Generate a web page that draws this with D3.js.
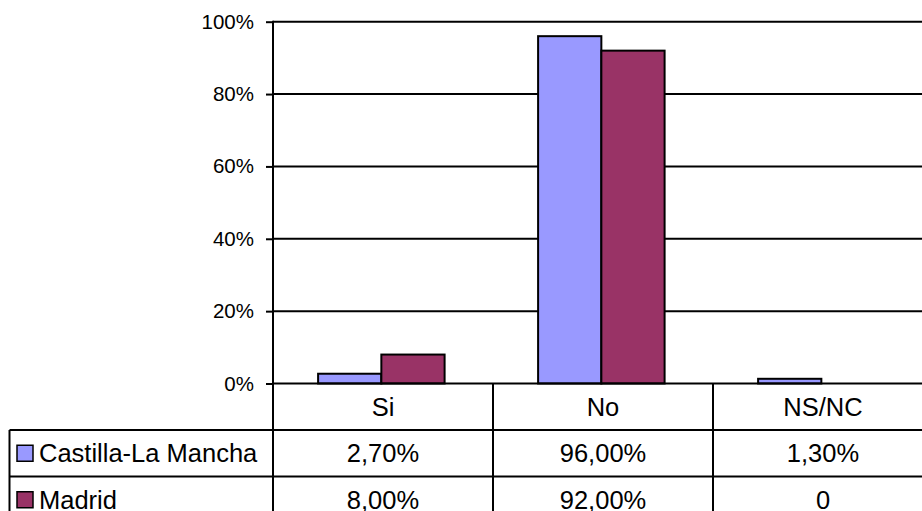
<!DOCTYPE html>
<html>
<head>
<meta charset="utf-8">
<script src="https://cdn.jsdelivr.net/npm/d3@7"></script>
<style>
  html, body { margin: 0; padding: 0; background: #fff; overflow: hidden; }
  svg { display: block; font-family: "Liberation Sans", Arial, sans-serif; }
</style>
</head>
<body>
<svg id="chart" width="922" height="511"></svg>
<script>
// ---- data ----
const categories = ["Si", "No", "NS/NC"];
const seriesNames = ["Castilla-La Mancha", "Madrid"];
const castillaValues = [2.7, 96.0, 1.3];
const madridValues = [8.0, 92.0, 0];
const yTickValues = [0, 20, 40, 60, 80, 100];
const seriesColors = ["#9999FF", "#993366"];

const seriesValues = [castillaValues, madridValues];

// ---- layout ----
const svg = d3.select("#chart");
const plotLeft = 273, plotRight = 933, plotTop = 21.7, plotBottom = 383.5;
const rowH = 46.5;
const legendLeft = 9.5;
const tableFont = 25.5;

const x0 = d3.scaleBand().domain(categories).range([plotLeft, plotRight]).padding(0);
const bw = x0.bandwidth();
const x1 = d3.scaleBand().domain(seriesNames).range([bw * 0.205, bw * 0.78]).padding(0);
const y = d3.scaleLinear().domain([0, 100]).range([plotBottom, plotTop]);

// gridlines
svg.append("g").selectAll("line").data(yTickValues.filter(d => d > 0)).join("line")
  .attr("x1", plotLeft).attr("x2", plotRight)
  .attr("y1", d => y(d)).attr("y2", d => y(d))
  .attr("stroke", "#000").attr("stroke-width", 2);

// bars
const groups = svg.append("g").selectAll("g").data(categories).join("g")
  .attr("transform", c => `translate(${x0(c)},0)`);
groups.selectAll("rect")
  .data((c, i) => seriesNames.map((s, j) => ({ s, j, v: seriesValues[j][i] })).filter(d => d.v > 0))
  .join("rect")
  .attr("x", d => x1(d.s))
  .attr("width", x1.bandwidth())
  .attr("y", d => y(d.v))
  .attr("height", d => y(0) - y(d.v))
  .attr("fill", d => seriesColors[d.j])
  .attr("stroke", "#000").attr("stroke-width", 2);

// y axis
const yAxis = d3.axisLeft(y).tickValues(yTickValues).tickSize(7).tickPadding(12)
  .tickFormat(d => d + "%");
const ya = svg.append("g").attr("transform", `translate(${plotLeft},0)`).call(yAxis);
ya.select(".domain").remove();
ya.selectAll(".tick line").attr("stroke", "#000").attr("stroke-width", 2);
ya.selectAll(".tick text").attr("font-size", 20.5).attr("fill", "#000")
  .attr("font-family", "'Liberation Sans', Arial, sans-serif");
svg.append("line").attr("x1", plotLeft).attr("x2", plotLeft)
  .attr("y1", plotTop - 1).attr("y2", plotBottom + rowH * 3)
  .attr("stroke", "#000").attr("stroke-width", 2);

// ---- data table ----
const fmt = v => v === 0 ? "0" : d3.format(".2f")(v).replace(".", ",") + "%";
const tbl = svg.append("g");
// horizontal lines
tbl.append("line").attr("x1", plotLeft).attr("x2", plotRight)
  .attr("y1", plotBottom).attr("y2", plotBottom).attr("stroke", "#000").attr("stroke-width", 2);
[1, 2, 3].forEach(r => {
  tbl.append("line").attr("x1", legendLeft).attr("x2", plotRight)
    .attr("y1", plotBottom + rowH * r).attr("y2", plotBottom + rowH * r)
    .attr("stroke", "#000").attr("stroke-width", 2);
});
// vertical lines
tbl.append("line").attr("x1", legendLeft).attr("x2", legendLeft)
  .attr("y1", plotBottom + rowH).attr("y2", plotBottom + rowH * 3)
  .attr("stroke", "#000").attr("stroke-width", 2);
categories.forEach(c => {
  const xr = x0(c) + bw;
  tbl.append("line").attr("x1", xr).attr("x2", xr)
    .attr("y1", plotBottom).attr("y2", plotBottom + rowH * 3)
    .attr("stroke", "#000").attr("stroke-width", 2);
});
// header
tbl.selectAll("text.cat").data(categories).join("text").attr("class", "cat")
  .attr("x", c => x0(c) + bw / 2).attr("y", plotBottom + rowH / 2)
  .attr("text-anchor", "middle").attr("dominant-baseline", "central")
  .attr("font-size", tableFont).attr("fill", "#000").text(c => c);
// rows
seriesNames.forEach((s, j) => {
  const cy = plotBottom + rowH * (j + 1) + rowH / 2;
  tbl.append("rect").attr("x", 17).attr("y", cy - 8).attr("width", 16).attr("height", 16)
    .attr("fill", seriesColors[j]).attr("stroke", "#000").attr("stroke-width", 1.5);
  tbl.append("text").attr("x", 39).attr("y", cy)
    .attr("dominant-baseline", "central").attr("font-size", tableFont).attr("fill", "#000").text(s);
  tbl.selectAll(null).data(categories).join("text")
    .attr("x", c => x0(c) + bw / 2).attr("y", cy)
    .attr("text-anchor", "middle").attr("dominant-baseline", "central")
    .attr("font-size", tableFont).attr("fill", "#000")
    .text((c, i) => fmt(seriesValues[j][i]));
});
</script>
</body>
</html>
